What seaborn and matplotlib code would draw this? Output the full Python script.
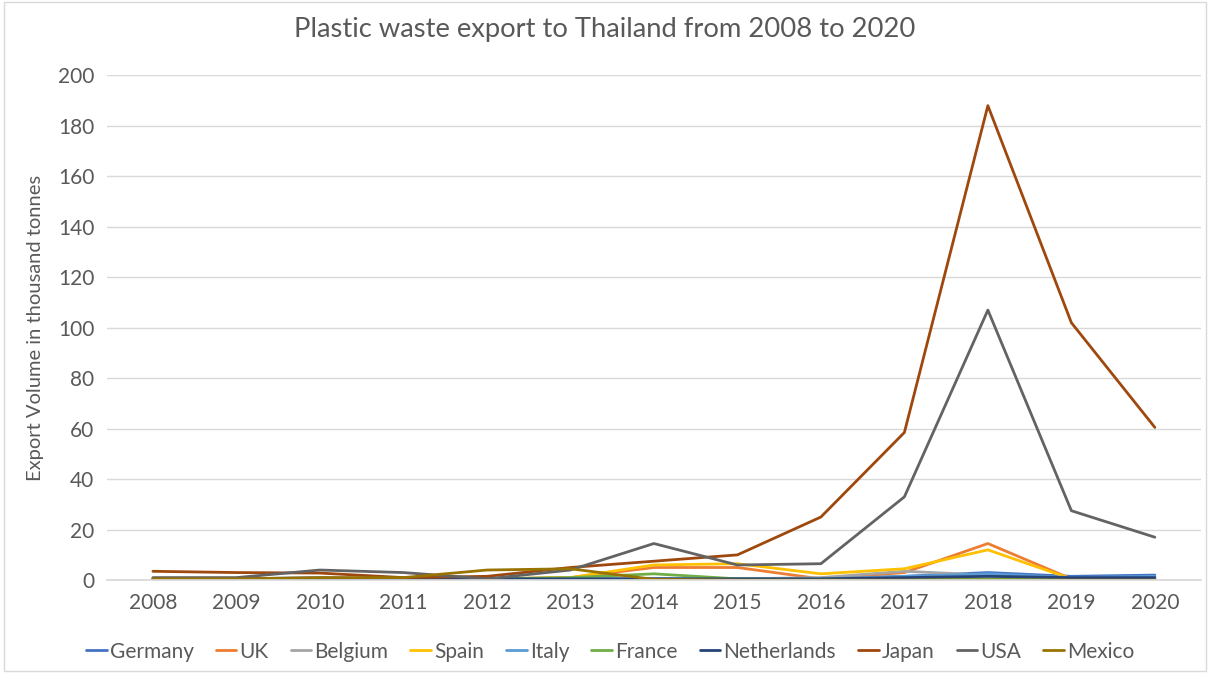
import matplotlib
matplotlib.use("Agg")
import matplotlib.pyplot as plt
import seaborn as sns
import pandas as pd

years = list(range(2008, 2021))
germany     = [0.5, 0.5, 1.0, 0.5, 0.5, 0.5, 0.5, 0.5, 0.5, 1.5, 3.0, 1.5, 2.0]
uk          = [0.0, 0.0, 0.5, 0.5, 0.5, 1.0, 5.0, 5.0, 0.5, 3.0, 14.5, 0.5, 0.5]
belgium     = [0.0, 0.0, 0.0, 0.0, 0.0, 0.5, 0.5, 0.5, 1.0, 3.5, 2.0, 0.5, 0.5]
spain       = [0.0, 0.0, 0.5, 0.5, 0.5, 1.0, 6.0, 6.5, 2.5, 4.5, 12.0, 0.5, 0.5]
italy       = [0.0, 0.0, 0.0, 0.0, 0.0, 0.0, 0.5, 0.5, 0.5, 1.5, 2.5, 1.0, 1.5]
france      = [0.0, 0.0, 0.0, 0.0, 0.5, 1.0, 2.5, 0.5, 0.3, 0.5, 0.5, 0.3, 0.3]
netherlands = [0.5, 0.5, 0.5, 0.5, 0.5, 0.5, 0.5, 0.5, 0.5, 1.0, 1.5, 1.0, 1.0]
japan       = [3.5, 3.0, 2.8, 1.0, 1.5, 5.0, 7.5, 10.0, 25.0, 58.5, 188.0, 102.0, 60.5]
usa         = [1.0, 1.0, 4.0, 3.0, 0.5, 4.0, 14.5, 6.0, 6.5, 33.0, 107.0, 27.5, 17.0]
mexico      = [0.5, 0.5, 1.0, 1.0, 4.0, 4.5, 0.3, 0.0, 0.0, 0.0, 0.0, 0.0, 0.0]

countries = ["Germany", "UK", "Belgium", "Spain", "Italy", "France",
             "Netherlands", "Japan", "USA", "Mexico"]
series = [germany, uk, belgium, spain, italy, france, netherlands, japan, usa, mexico]
colors = ["#4472C4", "#ED7D31", "#A5A5A5", "#FFC000", "#5B9BD5", "#70AD47",
          "#264478", "#9E480E", "#636363", "#997300"]

rows = []
for c, vals in zip(countries, series):
    for y, v in zip(years, vals):
        rows.append({"Year": y, "Country": c, "Value": v})
df = pd.DataFrame(rows)

sns.set_theme(style="white")
plt.rcParams["font.family"] = ["Lato", "DejaVu Sans"]

fig = plt.figure(figsize=(12.1, 6.73), dpi=100)
ax = fig.add_axes([0.0884, 0.138, 0.904, 0.75])

sns.lineplot(data=df, x="Year", y="Value", hue="Country", hue_order=countries,
             palette=colors, linewidth=2.0, ax=ax, legend=True)

ax.set_ylim(0, 200)
ax.set_xlim(2007.45, 2020.55)
ax.set_yticks(range(0, 201, 20))
ax.set_xticks(years)
ax.tick_params(axis="both", labelsize=15, colors="#595959", length=0, pad=9)
ax.grid(axis="y", color="#D9D9D9", linewidth=1)
for s in ["top", "right", "left"]:
    ax.spines[s].set_visible(False)
ax.spines["bottom"].set_color("#D9D9D9")
ax.set_xlabel("")
ax.set_ylabel("Export Volume in thousand tonnes", fontsize=14.5, color="#595959", labelpad=10)

fig.suptitle("Plastic waste export to Thailand from 2008 to 2020", fontsize=19.7,
             color="#595959", y=0.975, x=0.50)

handles, labels = ax.get_legend_handles_labels()
ax.legend(handles, labels, loc="upper center", bbox_to_anchor=(0.46, -0.085),
          ncol=10, frameon=False, fontsize=15, handlelength=1.0, handletextpad=0.15,
          columnspacing=1.05, labelcolor="#595959")

border = plt.Rectangle((0.003, 0.003), 0.994, 0.994, transform=fig.transFigure,
                       fill=False, edgecolor="#D9D9D9", linewidth=1)
fig.patches.append(border)

fig.savefig("out.png", dpi=100)
